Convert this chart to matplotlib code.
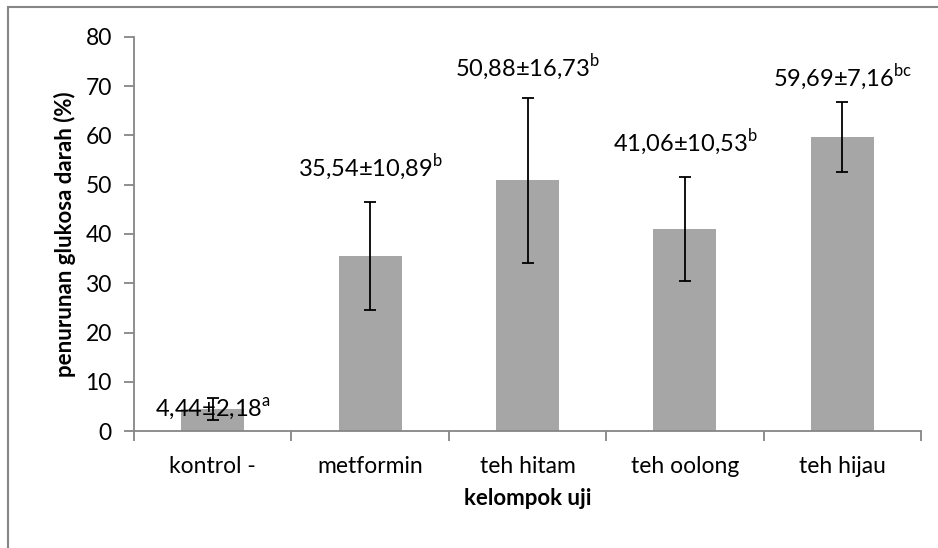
import matplotlib
matplotlib.use('Agg')
import matplotlib.pyplot as plt
from matplotlib.patches import Rectangle

plt.rcParams['font.family'] = ['Lato', 'DejaVu Sans']
plt.rcParams['mathtext.fontset'] = 'custom'
plt.rcParams['mathtext.rm'] = 'Lato'

# data
groups = ['kontrol -', 'metformin', 'teh hitam', 'teh oolong', 'teh hijau']
means = [4.44, 35.54, 50.88, 41.06, 59.69]
sds = [2.18, 10.89, 16.73, 10.53, 7.16]
letters = ['a', 'b', 'b', 'b', 'bc']
# where the value labels sit (y, in data units)
label_y = [4.5, 53.4, 73.7, 58.5, 71.7]

fig = plt.figure(figsize=(9.38, 5.48), dpi=100)
ax = fig.add_axes([134/938, 1 - 431/548, 787/938, 394/548])

x = range(len(groups))
ax.bar(x, means, width=0.4, color='#A6A6A6', zorder=2)
ax.errorbar(x, means, yerr=sds, fmt='none', ecolor='black',
            elinewidth=1.3, capsize=4.5, capthick=1.3, zorder=3)

for i in x:
    txt = f'{means[i]:.2f}±{sds[i]:.2f}'.replace('.', ',')
    ax.text(i, label_y[i], txt + r'$^{\mathrm{' + letters[i] + '}}$',
            ha='center', va='center', fontsize=17, zorder=4)

ax.set_xlim(-0.5, len(groups) - 0.5)
ax.set_ylim(0, 80)
ax.set_yticks(range(0, 81, 10))
ax.set_xticks([i - 0.5 for i in range(len(groups) + 1)], minor=False)
ax.set_xticklabels([])
ax.set_xticks(list(x), minor=True)
ax.set_xticklabels(groups, minor=True)
ax.tick_params(axis='x', which='minor', length=0, labelsize=16.5, pad=18)
ax.tick_params(axis='x', which='major', length=7, color='#868686', width=1.3)
ax.tick_params(axis='y', length=7, color='#868686', width=1.3, labelsize=16.5, pad=9)

for s in ['top', 'right']:
    ax.spines[s].set_visible(False)
for s in ['left', 'bottom']:
    ax.spines[s].set_color('#868686')
    ax.spines[s].set_linewidth(1.3)

ax.set_xlabel('kelompok uji', fontsize=16, fontweight='bold', labelpad=8)
ax.set_ylabel('penurunan glukosa darah (%)', fontsize=16, fontweight='bold', labelpad=7)

# chart border (only left/top visible in the crop)
fig.patches.append(Rectangle((8/938, -0.1), 1.2, 1.1 - 7/548, transform=fig.transFigure,
                             fill=False, edgecolor='#868686', linewidth=1.5))

plt.savefig('out.png', dpi=100)
